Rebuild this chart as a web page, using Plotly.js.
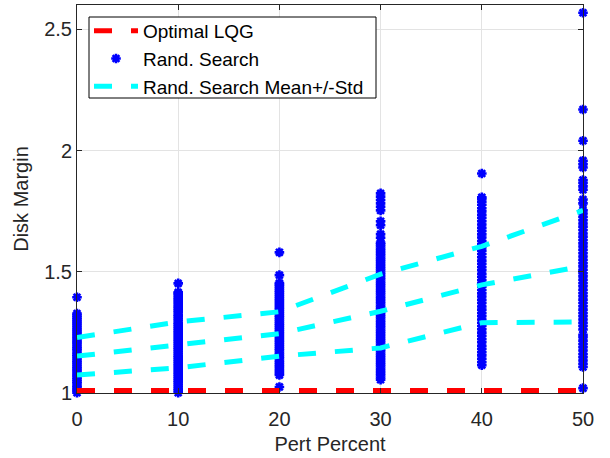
<!DOCTYPE html>
<html>
<head>
<meta charset="utf-8">
<script src="https://cdn.plot.ly/plotly-3.0.1.min.js"></script>
<style>html,body{margin:0;padding:0;background:#fff;}#chart{width:610px;height:458px;}</style>
</head>
<body>
<div id="chart"></div>
<script>
// Data
const pertPercent = [0, 10, 20, 30, 40, 50];
const optimalLQG = [1.01, 1.01, 1.01, 1.01, 1.01, 1.01];
const meanPlusStd = [1.229, 1.293, 1.335, 1.49, 1.605, 1.753];
const meanDM = [1.152, 1.199, 1.245, 1.337, 1.446, 1.523];
const meanMinusStd = [1.074, 1.104, 1.152, 1.186, 1.29, 1.293];

const rs0 = [1.001,1.009,1.016,1.024,1.031,1.040,1.047,1.055,1.063,1.071,1.078,1.087,1.095,1.102,1.110,1.119,1.127,1.134,1.142,1.151,1.158,1.166,1.175,1.183,1.190,1.199,1.207,1.214,1.223,1.231,1.239,1.247,1.255,1.263,1.271,1.280,1.288,1.296,1.304,1.312,1.320,1.328,1.395];
const rs10 = [0.993,1.001,1.010,1.018,1.027,1.035,1.044,1.052,1.061,1.069,1.078,1.086,1.095,1.103,1.112,1.120,1.129,1.137,1.146,1.154,1.163,1.171,1.180,1.188,1.197,1.205,1.214,1.222,1.231,1.239,1.248,1.256,1.265,1.273,1.282,1.290,1.299,1.307,1.316,1.324,1.333,1.341,1.350,1.358,1.367,1.375,1.384,1.392,1.401,1.410,1.415,1.452];
const rs20 = [1.025,1.074,1.082,1.091,1.099,1.108,1.116,1.125,1.133,1.142,1.150,1.159,1.167,1.176,1.184,1.193,1.201,1.210,1.218,1.227,1.235,1.244,1.252,1.261,1.269,1.278,1.286,1.295,1.303,1.312,1.320,1.329,1.337,1.346,1.354,1.363,1.371,1.380,1.388,1.397,1.405,1.414,1.422,1.431,1.439,1.447,1.453,1.486,1.580];
const rs30 = [1.055,1.064,1.073,1.082,1.091,1.100,1.109,1.118,1.127,1.136,1.145,1.154,1.163,1.172,1.181,1.190,1.199,1.208,1.217,1.226,1.235,1.244,1.253,1.262,1.271,1.280,1.289,1.298,1.307,1.316,1.325,1.334,1.343,1.352,1.361,1.370,1.379,1.388,1.397,1.406,1.415,1.424,1.433,1.442,1.451,1.460,1.469,1.478,1.487,1.496,1.505,1.514,1.523,1.532,1.541,1.550,1.559,1.568,1.577,1.586,1.595,1.604,1.613,1.620,1.640,1.655,1.692,1.708,1.753,1.768,1.782,1.796,1.810,1.823];
const rs40 = [1.115,1.128,1.141,1.155,1.168,1.182,1.195,1.209,1.222,1.236,1.249,1.263,1.276,1.290,1.303,1.317,1.330,1.344,1.357,1.371,1.384,1.398,1.411,1.425,1.438,1.452,1.465,1.479,1.492,1.506,1.519,1.533,1.546,1.560,1.573,1.587,1.600,1.614,1.627,1.641,1.654,1.668,1.681,1.695,1.708,1.722,1.735,1.749,1.762,1.776,1.789,1.801,1.807,1.905];
const rs50 = [1.020,1.107,1.120,1.134,1.148,1.161,1.175,1.189,1.202,1.216,1.230,1.240,1.262,1.276,1.289,1.303,1.317,1.330,1.344,1.358,1.371,1.385,1.399,1.412,1.426,1.440,1.453,1.467,1.481,1.494,1.508,1.522,1.535,1.549,1.563,1.576,1.590,1.604,1.617,1.631,1.645,1.658,1.672,1.686,1.699,1.713,1.727,1.740,1.753,1.782,1.798,1.838,1.852,1.866,1.878,1.930,1.944,1.958,2.040,2.169,2.568];

const randSearch = [rs0, rs10, rs20, rs30, rs40, rs50];
const xTickVals = [0, 10, 20, 30, 40, 50];
const yTickVals = [1, 1.5, 2, 2.5];

const scX = [], scY = [];
randSearch.forEach((col, i) => col.forEach(v => { scX.push(pertPercent[i]); scY.push(v); }));

const FONT = 'Liberation Sans, Arial, Helvetica, sans-serif';
const TXT = '#262626';
const DASH = '18px,19px';

const traces = [
  {x: scX, y: scY, type: 'scatter', mode: 'markers', name: 'Rand. Search',
   marker: {symbol: 'asterisk-open', size: 8, color: '#0000ff', line: {color: '#0000ff', width: 2.6}},
   cliponaxis: false, legendrank: 2},
  {x: pertPercent, y: optimalLQG, type: 'scatter', mode: 'lines', name: 'Optimal LQG',
   line: {color: '#ff0000', width: 5, dash: DASH}, legendrank: 1},
  {x: pertPercent, y: meanPlusStd, type: 'scatter', mode: 'lines', name: 'Rand. Search Mean+/-Std',
   legendgroup: 'ms', line: {color: '#00ffff', width: 5, dash: DASH}, legendrank: 3},
  {x: pertPercent, y: meanDM, type: 'scatter', mode: 'lines', name: 'Rand. Search Mean+/-Std',
   legendgroup: 'ms', showlegend: false, line: {color: '#00ffff', width: 5, dash: DASH}},
  {x: pertPercent, y: meanMinusStd, type: 'scatter', mode: 'lines', name: 'Rand. Search Mean+/-Std',
   legendgroup: 'ms', showlegend: false, line: {color: '#00ffff', width: 5, dash: DASH}}
];

const axisCommon = {
  showline: true, linecolor: TXT, linewidth: 1, mirror: 'ticks',
  ticks: 'inside', ticklen: 5, tickcolor: TXT, tickwidth: 1,
  showgrid: true, gridcolor: '#e3e3e3', gridwidth: 1, zeroline: false,
  tickfont: {family: FONT, size: 20, color: TXT}
};

// legend frame position (pixels in the 610x458 figure)
const W = 610, H = 458, ML = 77, MR = 27, MT = 5, MB = 65;
const PW = W - ML - MR, PH = H - MT - MB;
const fx = px => (px - ML) / PW;
const fy = py => (H - MB - py) / PH;

const layout = {
  width: W, height: H,
  margin: {l: ML, r: MR, t: MT, b: MB},
  paper_bgcolor: '#ffffff', plot_bgcolor: '#ffffff',
  showlegend: true,
  legend: {x: fx(89), y: fy(12), xanchor: 'left', yanchor: 'top',
           bgcolor: 'rgba(0,0,0,0)', borderwidth: 0, itemwidth: 44,
           font: {family: FONT, size: 19, color: '#000000'}, tracegroupgap: 0},
  shapes: [{type: 'rect', xref: 'paper', yref: 'paper', layer: 'above',
            x0: fx(89), x1: fx(376), y0: fy(98), y1: fy(17),
            fillcolor: '#ffffff', line: {color: '#000000', width: 1}}],
  xaxis: Object.assign({}, axisCommon, {range: [0, 50], tickvals: xTickVals, ticklabelstandoff: 8,
           title: {text: 'Pert Percent', font: {family: FONT, size: 20, color: TXT}, standoff: 7}}),
  yaxis: Object.assign({}, axisCommon, {range: [1, 2.6], tickvals: yTickVals,
           title: {text: 'Disk Margin', font: {family: FONT, size: 20, color: TXT}, standoff: 10}})
};

Plotly.newPlot('chart', traces, layout, {displayModeBar: false, staticPlot: true});
</script>
</body>
</html>
